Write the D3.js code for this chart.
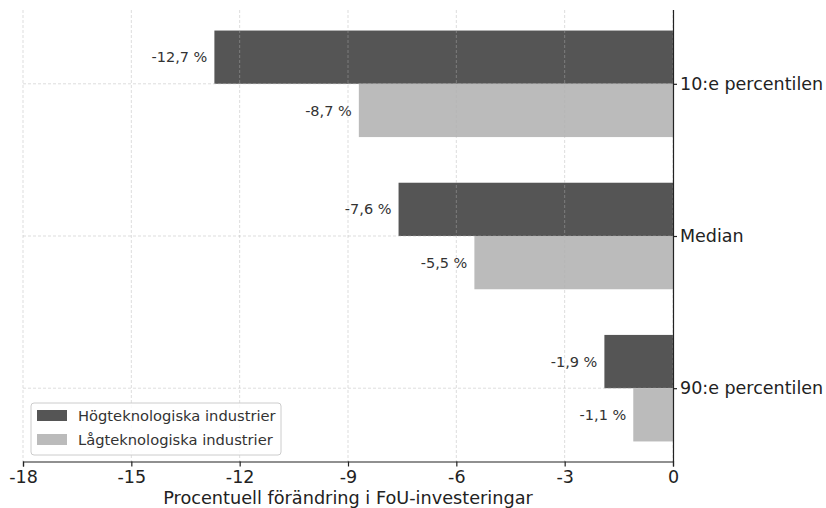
<!DOCTYPE html>
<html>
<head>
<meta charset="utf-8">
<script src="https://cdn.jsdelivr.net/npm/d3@7/dist/d3.min.js"></script>
<style>
  body { margin: 0; background: #fff; }
  svg { display: block; font-family: "DejaVu Sans", sans-serif; }
</style>
</head>
<body>
<svg id="chart" width="826" height="508"></svg>
<script>
// Percentage change in R&D investment by percentile
const categories = ["10:e percentilen", "Median", "90:e percentilen"];
const seriesNames = ["Högteknologiska industrier", "Lågteknologiska industrier"];
const highTech = [-12.7, -7.6, -1.9];
const lowTech = [-8.7, -5.5, -1.1];
const xTicks = [-18, -15, -12, -9, -6, -3, 0];
const xTitle = "Procentuell förändring i FoU-investeringar";
const colors = ["#555555", "#bbbbbb"];

const svg = d3.select("#chart");
const x0 = 23, x1 = 673;
const y0 = 10, y1 = 462;

const x = d3.scaleLinear().domain([-18, 0]).range([x0, x1]);
// category index axis: bars span ±0.35 around each centre, with 5% padding
const y = d3.scaleLinear().domain([-0.485, 2.485]).range([y0, y1]);
const barH = 0.35;

const fmt = v => String(v).replace(".", ",") + " %";

// bars with value labels
const series = [highTech, lowTech];
series.forEach((vals, s) => {
  const g = svg.append("g");
  g.selectAll("rect").data(vals).join("rect")
    .attr("x", d => x(d))
    .attr("width", d => x(0) - x(d))
    .attr("y", (d, i) => s === 0 ? y(i - barH) : y(i))
    .attr("height", y(barH) - y(0))
    .attr("fill", colors[s]);
  g.selectAll("text").data(vals).join("text")
    .attr("x", d => x(d) - 7)
    .attr("y", (d, i) => s === 0 ? y(i - barH / 2) : y(i + barH / 2))
    .attr("dy", "0.35em")
    .attr("text-anchor", "end")
    .attr("font-size", 14.5)
    .attr("fill", "#333")
    .text(d => fmt(d));
});

// dashed grid drawn over the bars
const grid = svg.append("g")
  .attr("stroke", "#b0b0b0").attr("stroke-opacity", 0.55)
  .attr("stroke-width", 0.8).attr("stroke-dasharray", "3,2");
grid.selectAll("line.v").data(xTicks).join("line").attr("class", "v")
  .attr("x1", d => x(d)).attr("x2", d => x(d))
  .attr("y1", y0).attr("y2", y1);
grid.selectAll("line.h").data(categories).join("line").attr("class", "h")
  .attr("x1", x0).attr("x2", x1)
  .attr("y1", (d, i) => y(i)).attr("y2", (d, i) => y(i));

// x axis
const xAxis = svg.append("g").attr("transform", `translate(0,${y1 - 0.5})`)
  .call(d3.axisBottom(x).tickValues(xTicks).tickFormat(d => String(d)).tickSize(5).tickPadding(4));
xAxis.select(".domain").attr("stroke", "#222").attr("stroke-width", 1.2);
xAxis.selectAll(".tick line").attr("stroke", "#222").attr("stroke-width", 1.2);
xAxis.selectAll(".tick text").attr("font-size", 17.5).attr("fill", "#222")
  .attr("font-family", "DejaVu Sans, sans-serif");

// category axis on the right
const yAxis = svg.append("g").attr("transform", `translate(${x1},0)`)
  .call(d3.axisRight(y).tickValues([0, 1, 2]).tickFormat((d) => categories[d]).tickSize(4).tickPadding(3));
yAxis.select(".domain").attr("stroke", "#222").attr("stroke-width", 1.2)
  .attr("d", `M0.5,${y0}V${y1}`);
yAxis.selectAll(".tick line").attr("stroke", "#222").attr("stroke-width", 1.2);
yAxis.selectAll(".tick text").attr("font-size", 17.5).attr("fill", "#222")
  .attr("font-family", "DejaVu Sans, sans-serif");

// axis title
svg.append("text")
  .attr("x", (x0 + x1) / 2).attr("y", 503.5)
  .attr("text-anchor", "middle").attr("font-size", 17.7).attr("fill", "#222")
  .text(xTitle);

// legend
const lg = svg.append("g").attr("transform", "translate(31,403)");
lg.append("rect").attr("width", 250).attr("height", 52).attr("rx", 3)
  .attr("fill", "#fff").attr("fill-opacity", 0.8)
  .attr("stroke", "#ccc").attr("stroke-width", 1);
seriesNames.forEach((n, i) => {
  lg.append("rect").attr("x", 6).attr("y", 7 + i * 24).attr("width", 30).attr("height", 11)
    .attr("fill", colors[i]);
  lg.append("text").attr("x", 47).attr("y", 13 + i * 24).attr("dy", "0.35em")
    .attr("font-size", 14.7).attr("fill", "#333").text(n);
});
</script>
</body>
</html>
